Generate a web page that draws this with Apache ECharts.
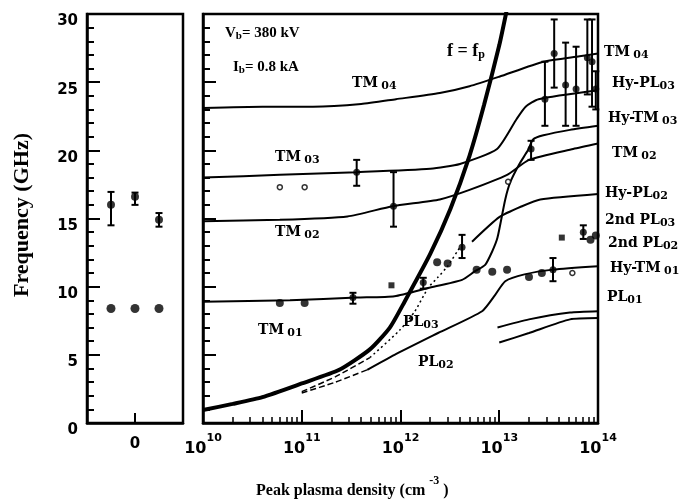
<!DOCTYPE html>
<html>
<head>
<meta charset="utf-8">
<script src="https://cdn.jsdelivr.net/npm/echarts@6/dist/echarts.min.js"></script>
<style>
html, body { margin: 0; background: #fff; }
#main { width: 688px; height: 501px; }
</style>
</head>
<body>
<div id="main"></div>
<script>
// left panel (no plasma)
var leftX = [-1, 0, 1];
var leftUpper = [16.0, 16.6, 14.9];
var leftUpperLow = [14.5, 16.0, 14.4];
var leftUpperHigh = [16.95, 16.9, 15.4];
var leftLower = [8.4, 8.4, 8.4];

// right panel: [peak plasma density (cm^-3), frequency (GHz)]
var fpLine = [[1e10, 0.95], [2e10, 1.4], [4e10, 1.9], [1e11, 2.9], [2.4e11, 3.9], [4.9e11, 5.4], [7.8e11, 7.0], [1.1e12, 8.9], [2e12, 12.4], [3.2e12, 15.7], [5e12, 19.6], [7e12, 23.3], [1e13, 27.7], [1.2e13, 30.4]];
var tm04 = [[1e10, 23.1], [4e10, 23.2], [1.3e11, 23.2], [4e11, 23.4], [9e11, 23.75], [2.5e12, 24.2], [5e12, 24.7], [1e13, 25.4], [2.8e13, 26.5], [6.5e13, 26.9], [1e14, 27.1]];
var tm03 = [[1e10, 18.0], [6e10, 18.2], [3.6e11, 18.4], [2e12, 18.65], [4e12, 19.0], [9.5e12, 20.1], [1.5e13, 22.3], [1.85e13, 23.2], [2.5e13, 23.75], [1e14, 24.4]];
var tm02 = [[1e10, 14.8], [6e10, 14.9], [2.9e11, 15.15], [8.3e11, 15.9], [2.5e12, 16.4], [5e12, 17.1], [1.2e13, 18.2], [2e13, 19.3], [5.6e13, 20.1], [1e14, 20.5]];
var tm01 = [[1e10, 8.9], [7.6e10, 9.0], [3.6e11, 9.2], [8.7e11, 9.3], [1.9e12, 9.9], [4.2e12, 10.5], [5.6e12, 11.1], [7.2e12, 11.6], [8.5e12, 12.6], [9.6e12, 13.6], [1.15e13, 16.4], [1.3e13, 17.7], [1.6e13, 19.0], [1.95e13, 20.0], [2.2e13, 20.8], [2.8e13, 21.1], [5.2e13, 21.5], [1e14, 21.8]];
var pl03Dash = [[1e11, 2.3], [2.2e11, 3.4], [4.9e11, 4.8]];
var pl03Dot = [[4.9e11, 4.8], [9.8e11, 6.8], [1.4e12, 8.2], [1.9e12, 9.9], [2.4e12, 10.7], [3e12, 11.5], [4e12, 12.9]];
var hyPl02 = [[5.3e12, 13.3], [1e13, 15.1], [1.7e13, 15.9], [2.6e13, 16.4], [1e14, 16.8]];
var pl02Dash = [[1e11, 2.2], [2.2e11, 3.0], [4.6e11, 3.9]];
var pl02 = [[4.6e11, 3.9], [8.7e11, 5.0], [2.4e12, 6.6], [6.7e12, 8.2], [9.1e12, 9.4], [1.15e13, 10.4], [1.8e13, 10.9], [3.5e13, 11.25], [1e14, 11.5]];
var pl01a = [[9.6e12, 7.0], [2e13, 7.6], [5.2e13, 8.1], [1e14, 8.2]];
var pl01b = [[1e13, 5.9], [2e13, 6.6], [5.2e13, 7.6], [1e14, 7.7]];

var filledPts = [[6e10, 8.8], [1.07e11, 8.8], [2.35e12, 11.8], [3e12, 11.7], [5.9e12, 11.25], [8.5e12, 11.1], [1.2e13, 11.25], [2e13, 10.7], [2.7e13, 11.0], [8.4e13, 13.45], [9.5e13, 13.75]];
var openPts = [[6e10, 17.3], [1.07e11, 17.3], [1.23e13, 17.7], [5.5e13, 11.0]];
var squarePts = [[8.1e11, 10.1], [4.3e13, 13.6]];
// [density, value, low, high]
var errPts = [
    [3.6e11, 18.4, 17.4, 19.3], [8.5e11, 15.9, 14.4, 18.4], [3.3e11, 9.2, 8.75, 9.55],
    [1.7e12, 10.3, 9.85, 10.65], [4.2e12, 12.9, 12.1, 13.8], [3.5e13, 11.25, 10.4, 12.1],
    [2.1e13, 20.1, 19.3, 20.7], [2.9e13, 23.75, 21.8, 26.5], [3.6e13, 27.1, 24.6, 29.6],
    [4.7e13, 24.8, 21.8, 27.9], [6e13, 24.5, 21.8, 27.6], [7.8e13, 26.8, 24.1, 29.6],
    [8.7e13, 26.5, 23.2, 29.6], [9.5e13, 24.5, 23.0, 25.8], [7.1e13, 14.0, 13.5, 14.5]
];

var myChart = echarts.init(document.getElementById('main'));

var serif = 'Liberation Serif';
var label = 'DejaVu Serif';
var black = '#000';

// minor ticks of the log axis, 2..9 in every decade
var minorLog = [];
for (var n = 10; n < 14; n++) {
    for (var k = 2; k < 10; k++) {
        minorLog.push(n + Math.log10(k));
    }
}

function errorBar(params, api) {
    var x = api.value(0);
    var lo = api.coord([x, api.value(2)]);
    var hi = api.coord([x, api.value(3)]);
    var w = 3.5;
    var st = { stroke: black, lineWidth: 2 };
    return {
        type: 'group',
        children: [
            { type: 'line', shape: { x1: lo[0], y1: lo[1], x2: hi[0], y2: hi[1] }, style: st },
            { type: 'line', shape: { x1: hi[0] - w, y1: hi[1], x2: hi[0] + w, y2: hi[1] }, style: st },
            { type: 'line', shape: { x1: lo[0] - w, y1: lo[1], x2: lo[0] + w, y2: lo[1] }, style: st }
        ]
    };
}

function curve(data, width, type) {
    return {
        type: 'line',
        xAxisIndex: 1,
        yAxisIndex: 1,
        data: data,
        showSymbol: false,
        smooth: 0.2,
        clip: true,
        lineStyle: { color: black, width: width, type: type || 'solid' },
        silent: true
    };
}

var yAxisBase = {
    type: 'value',
    min: 0,
    max: 30,
    interval: 5,
    axisLine: { show: true, onZero: false, lineStyle: { color: black, width: 2.5 } },
    axisTick: { show: true, inside: true, length: 13, lineStyle: { color: black, width: 2 } },
    minorTick: { show: true, splitNumber: 5, length: 7, lineStyle: { color: black, width: 2 } },
    splitLine: { show: false }
};

function textLabel(x, y, main, sub, gap) {
    return {
        type: 'text', x: x, y: y,
        style: {
            text: '{m|' + main + '}' + (gap ? ' ' : '') + '{s|' + sub + '}',
            textVerticalAlign: 'middle',
            rich: {
                m: { fontFamily: label, fontWeight: 'bold', fontSize: 14, lineHeight: 18, fill: black },
                s: { fontFamily: label, fontWeight: 'bold', fontSize: 11, lineHeight: 11, verticalAlign: 'bottom', fill: black }
            }
        }
    };
}

var option = {
    animation: false,
    backgroundColor: '#fff',
    grid: [
        { left: 87, top: 14, width: 96, height: 409, show: true, borderColor: black, borderWidth: 2.5 },
        { left: 203, top: 14, width: 395, height: 409, show: true, borderColor: black, borderWidth: 2.5 }
    ],
    xAxis: [
        {
            type: 'value', gridIndex: 0, min: -2, max: 2, interval: 2,
            axisLine: { onZero: false, lineStyle: { color: black, width: 2.5 } },
            axisTick: { inside: true, length: 10, lineStyle: { color: black, width: 2 } },
            axisLabel: {
                margin: 14, color: black, fontFamily: 'DejaVu Sans', fontWeight: 'bold', fontSize: 15,
                formatter: function (v) { return v === 0 ? '0' : ''; }
            },
            splitLine: { show: false }
        },
        {
            type: 'log', gridIndex: 1, logBase: 10, min: 1e10, max: 1e14,
            axisLine: { onZero: false, lineStyle: { color: black, width: 2.5 } },
            axisTick: { inside: true, length: 13, lineStyle: { color: black, width: 2 } },
            axisLabel: {
                margin: 10,
                formatter: function (v) {
                    return '{b|10}{s|' + Math.round(Math.log10(v)) + '}';
                },
                rich: {
                    b: { fontFamily: 'DejaVu Sans', fontWeight: 'bold', fontSize: 16, lineHeight: 24, verticalAlign: 'bottom', color: black },
                    s: { fontFamily: 'DejaVu Sans', fontWeight: 'bold', fontSize: 11, lineHeight: 12, verticalAlign: 'top', color: black }
                }
            },
            splitLine: { show: false }
        },
        {
            type: 'value', gridIndex: 1, min: 10, max: 14, position: 'bottom', offset: 0,
            axisLine: { show: false, onZero: false },
            axisTick: { show: true, inside: true, length: 6, customValues: minorLog, lineStyle: { color: black, width: 1.5 } },
            axisLabel: { show: false },
            splitLine: { show: false }
        }
    ],
    yAxis: [
        Object.assign({}, yAxisBase, {
            gridIndex: 0,
            axisLabel: {
                margin: 9, color: black, fontFamily: 'DejaVu Sans', fontWeight: 'bold', fontSize: 15,
                verticalAlign: 'top'
            }
        }),
        Object.assign({}, yAxisBase, { gridIndex: 1, axisLabel: { show: false } })
    ],
    series: [
        {
            type: 'custom', xAxisIndex: 0, yAxisIndex: 0, renderItem: errorBar,
            data: leftX.map(function (x, i) { return [x, leftUpper[i], leftUpperLow[i], leftUpperHigh[i]]; }),
            encode: { x: 0, y: [2, 3] }, z: 3
        },
        {
            type: 'scatter', xAxisIndex: 0, yAxisIndex: 0, symbolSize: 8,
            itemStyle: { color: black },
            data: leftX.map(function (x, i) { return [x, leftUpper[i]]; }), z: 4
        },
        {
            type: 'scatter', xAxisIndex: 0, yAxisIndex: 0, symbolSize: 9,
            itemStyle: { color: black },
            data: leftX.map(function (x, i) { return [x, leftLower[i]]; })
        },
        curve(fpLine, 4),
        curve(tm04, 2),
        curve(tm03, 2),
        curve(tm02, 2),
        curve(tm01, 2),
        curve(pl03Dash, 1.5, [6, 3]),
        curve(pl03Dot, 1.5, [2, 3]),
        curve(hyPl02, 2),
        curve(pl02Dash, 1.5, [6, 3]),
        curve(pl02, 2),
        curve(pl01a, 2),
        curve(pl01b, 2),
        {
            type: 'custom', xAxisIndex: 1, yAxisIndex: 1, renderItem: errorBar,
            data: errPts, encode: { x: 0, y: [2, 3] }, z: 3
        },
        {
            type: 'scatter', xAxisIndex: 1, yAxisIndex: 1, symbolSize: 7,
            itemStyle: { color: black },
            data: errPts.map(function (p) { return [p[0], p[1]]; }), z: 4
        },
        {
            type: 'scatter', xAxisIndex: 1, yAxisIndex: 1, symbolSize: 8,
            itemStyle: { color: black }, data: filledPts, z: 4
        },
        {
            type: 'scatter', xAxisIndex: 1, yAxisIndex: 1, symbol: 'rect', symbolSize: 6,
            itemStyle: { color: black }, data: squarePts, z: 4
        },
        {
            type: 'scatter', xAxisIndex: 1, yAxisIndex: 1, symbolSize: 5,
            itemStyle: { color: '#fff', borderColor: black, borderWidth: 1.5 }, data: openPts, z: 4
        }
    ],
    graphic: [
        {
            type: 'text', x: 22, y: 215, rotation: Math.PI / 2,
            style: { text: 'Frequency (GHz)', fontFamily: serif, fontWeight: 'bold', fontSize: 22, fill: black, textAlign: 'center', textVerticalAlign: 'middle' }
        },
        {
            type: 'text', x: 256, y: 487,
            style: {
                text: '{t|Peak plasma density (cm }{u|-3}{t| )}',
                textVerticalAlign: 'middle',
                rich: {
                    t: { fontFamily: serif, fontWeight: 'bold', fontSize: 16, lineHeight: 24, verticalAlign: 'bottom', fill: black },
                    u: { fontFamily: serif, fontWeight: 'bold', fontSize: 12, lineHeight: 12, verticalAlign: 'top', fill: black }
                }
            }
        },
        {
            type: 'text', x: 225, y: 33,
            style: {
                text: '{m|V}{s|b}{m|= 380 kV}', textVerticalAlign: 'middle',
                rich: {
                    m: { fontFamily: serif, fontWeight: 'bold', fontSize: 15, lineHeight: 18, fill: black },
                    s: { fontFamily: serif, fontWeight: 'bold', fontSize: 11, lineHeight: 10, verticalAlign: 'bottom', fill: black }
                }
            }
        },
        {
            type: 'text', x: 233, y: 67,
            style: {
                text: '{m|I}{s|b}{m|= 0.8 kA}', textVerticalAlign: 'middle',
                rich: {
                    m: { fontFamily: serif, fontWeight: 'bold', fontSize: 15, lineHeight: 18, fill: black },
                    s: { fontFamily: serif, fontWeight: 'bold', fontSize: 11, lineHeight: 10, verticalAlign: 'bottom', fill: black }
                }
            }
        },
        {
            type: 'text', x: 447, y: 51,
            style: {
                text: '{m|f = f}{s|p}', textVerticalAlign: 'middle',
                rich: {
                    m: { fontFamily: serif, fontWeight: 'bold', fontSize: 18, lineHeight: 20, fill: black },
                    s: { fontFamily: serif, fontWeight: 'bold', fontSize: 12, lineHeight: 10, verticalAlign: 'bottom', fill: black }
                }
            }
        },
        textLabel(352, 83, 'TM', '04', true),
        textLabel(275, 157, 'TM', '03', true),
        textLabel(275, 232, 'TM', '02', true),
        textLabel(258, 330, 'TM', '01', true),
        textLabel(403, 322, 'PL', '03', false),
        textLabel(418, 362, 'PL', '02', false),
        textLabel(604, 52, 'TM', '04', true),
        textLabel(612, 83, 'Hy-PL', '03', false),
        textLabel(608, 118, 'Hy-TM', '03', true),
        textLabel(612, 153, 'TM', '02', true),
        textLabel(605, 193, 'Hy-PL', '02', false),
        textLabel(605, 220, '2nd PL', '03', false),
        textLabel(608, 243, '2nd PL', '02', false),
        textLabel(610, 268, 'Hy-TM', '01', true),
        textLabel(607, 297, 'PL', '01', false)
    ]
};

myChart.setOption(option);
</script>
</body>
</html>
